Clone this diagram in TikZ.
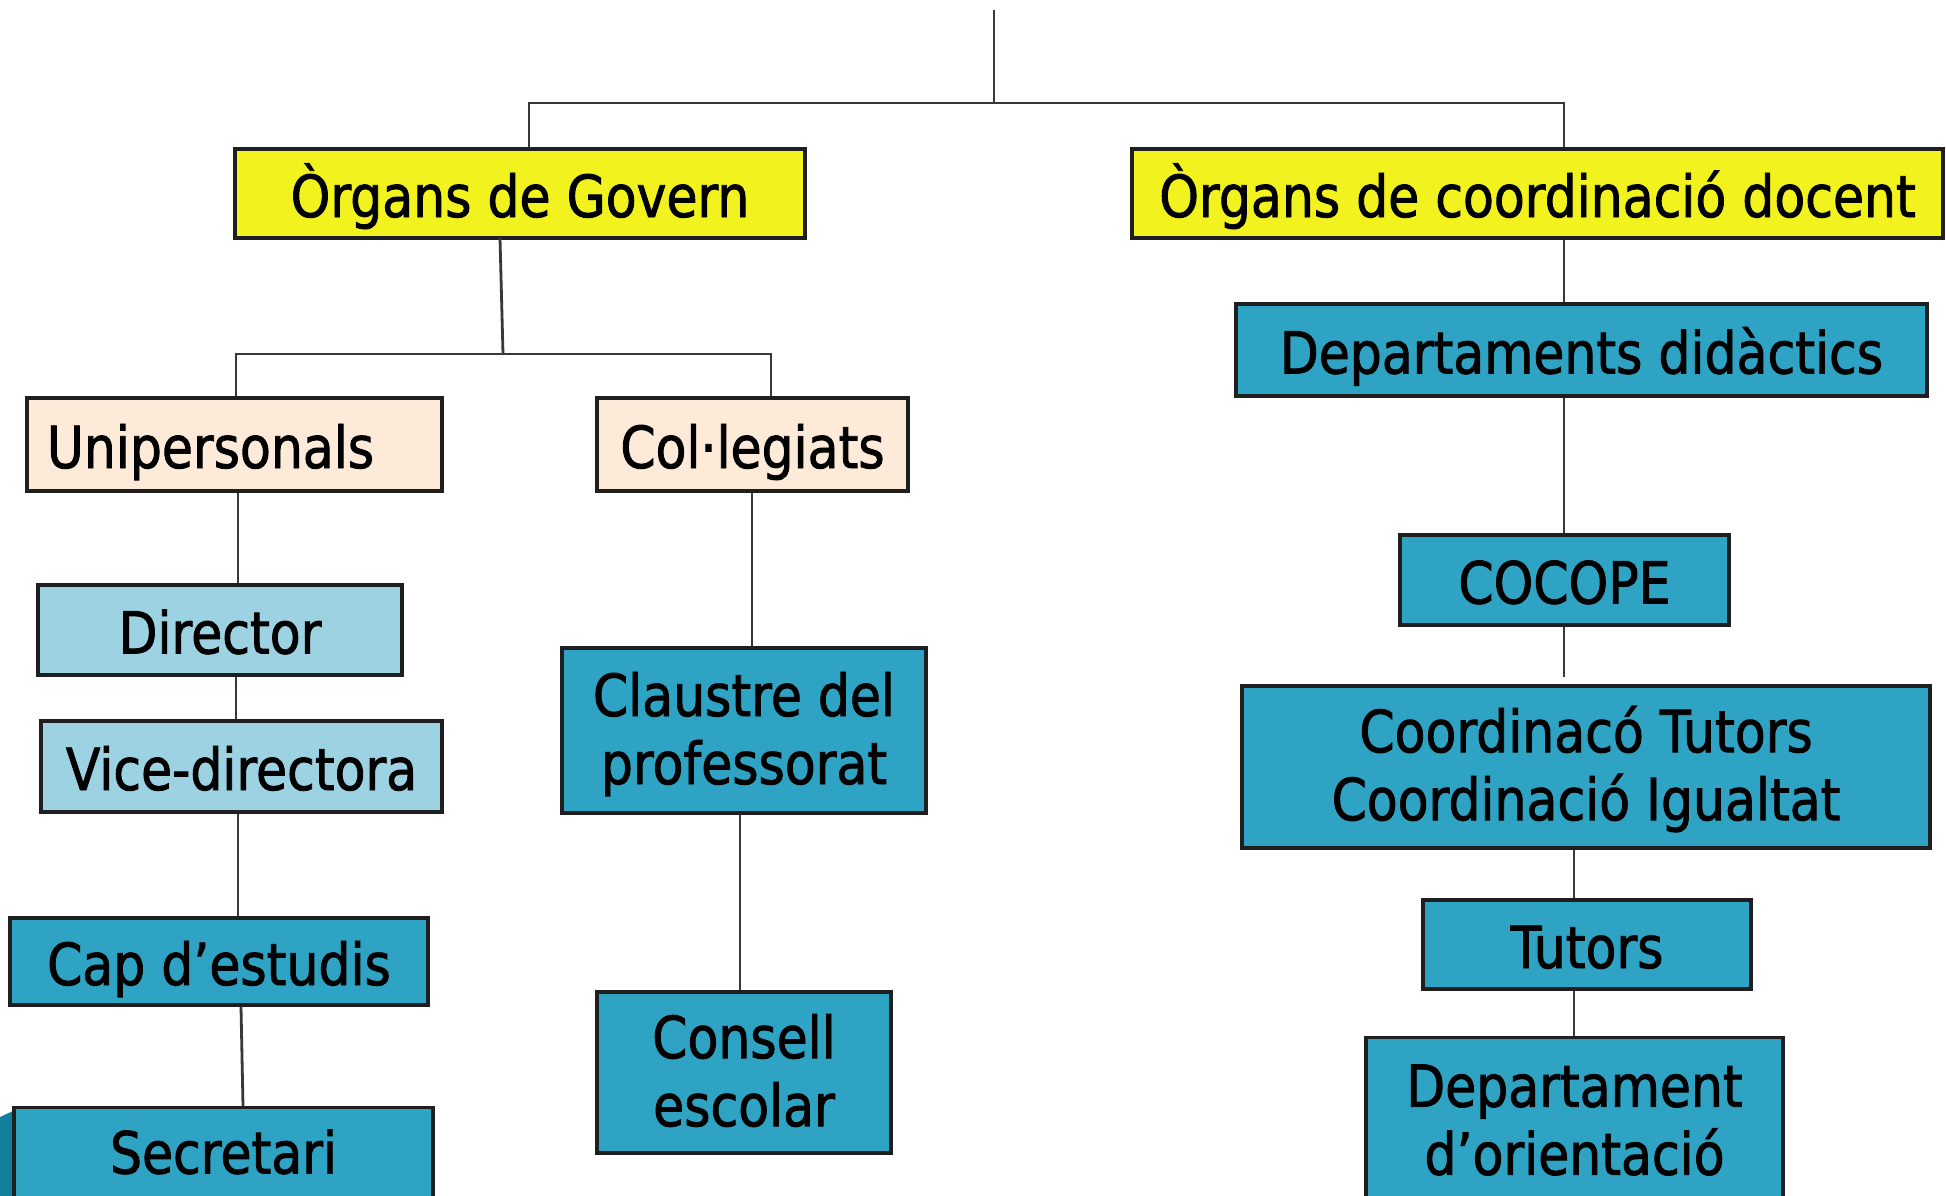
\documentclass[tikz,border=0pt]{standalone}
\usepackage{fontspec}
\setmainfont{DejaVu Sans}[FakeStretch=0.87,FakeBold=1.5]
\usetikzlibrary{calc}
\definecolor{cyell}{HTML}{F2F21E}
\definecolor{cpeach}{HTML}{FDEAD8}
\definecolor{clight}{HTML}{9CD2E2}
\definecolor{cteal}{HTML}{2EA3C3}
\definecolor{cdark}{HTML}{15809E}
\definecolor{cline}{HTML}{383838}
\begin{document}
\begin{tikzpicture}[x=1pt,y=-1pt,
  font=\fontsize{58}{68}\selectfont,
  box/.style={draw=black!88, line width=3.1pt, inner sep=0pt, align=center, text=black},
  sl/.style={text height=57pt, text depth=10pt},
  ybox/.style={box, sl, fill=cyell},
  pbox/.style={box, sl, fill=cpeach},
  lbox/.style={box, sl, fill=clight},
  tbox/.style={box, sl, fill=cteal},
  mbox/.style={box, fill=cteal},
  txt/.style={inner sep=0pt, align=center, text=black},
  conn/.style={draw=cline, line width=2.8pt}]
\useasboundingbox (0,0) rectangle (1946,1196);
\clip (0,0) rectangle (1946,1196);
\fill[white] (0,0) rectangle (1946,1196);
\fill[cdark] (0,1117) -- (13,1111) -- (13,1196) -- (0,1196) -- cycle;

% top level
\node[ybox, minimum width=570, minimum height=89] (gov) at (520,193.5) {Òrgans de Govern};
\node[ybox, minimum width=811, minimum height=89] (coord) at (1537.5,193.5) {Òrgans de coordinació docent};

% left branch
\node[pbox, minimum width=415, minimum height=93] (unip) at (234.5,444.5) {\kern-48pt Unipersonals};
\node[pbox, minimum width=311, minimum height=93] (coll) at (752.5,444.5) {Col·legiats};
\node[lbox, minimum width=364, minimum height=90] (dir) at (220,630) {Director};
\node[lbox, minimum width=401, minimum height=91] (vice) at (241.5,766.5) {Vice-directora};
\node[tbox, minimum width=418, minimum height=87] (cap) at (219,961.5) {Cap d’estudis};
\node[mbox, minimum width=419, minimum height=130, anchor=north] (sec) at (223.5,1106) {};
\node[txt, sl] (sect) at (223.5,1150) {Secretari};
\node[mbox, minimum width=364, minimum height=165] (claus) at (744,730.5) {};
\node[txt] (claust) at (744,734) {Claustre del\\professorat};
\node[mbox, minimum width=294, minimum height=161] (cons) at (744,1072.5) {};
\node[txt] (const) at (744,1070.5) {Consell\\escolar};

% right branch
\node[tbox, minimum width=691, minimum height=92] (deps) at (1581.5,350) {Departaments didàctics};
\node[tbox, minimum width=329, minimum height=90] (cocope) at (1564.5,580) {COCOPE};
\node[mbox, minimum width=688, minimum height=162] (coordt) at (1586,767) {};
\node[txt] (coordtt) at (1586,769) {Coordinacó Tutors\\Coordinació Igualtat};
\node[tbox, minimum width=328, minimum height=89] (tutors) at (1587,944.5) {Tutors};
\node[mbox, minimum width=417, minimum height=200, anchor=north] (dori) at (1574.5,1036) {};
\node[txt] (dorit) at (1574.5,1120) {Departament\\d’orientació};

% connectors
\coordinate (top) at (994,10);
\coordinate (j1) at (994,103);
\coordinate (xg) at (529,0);
\coordinate (xr) at (1564,0);
\coordinate (xr2) at (1574,0);
\draw[conn] (top) -- (j1);
\draw[conn] (j1) -| (gov.north -| xg);
\draw[conn] (j1) -| (coord.north -| xr);

\coordinate (g1) at (500,238);
\coordinate (g2) at (503,354);
\draw[conn] (g1) -- (g2);
\draw[conn] (g2) -| (unip.north -| 236,0);
\draw[conn] (g2) -| (coll.north -| 771,0);
\draw[conn] (unip.south -| 238,0) -- (dir.north -| 238,0);
\draw[conn] (dir.south -| 236,0) -- (vice.north -| 236,0);
\draw[conn] (vice.south -| 238,0) -- (cap.north -| 238,0);
\draw[conn] (cap.south -| 241,0) -- (sec.north -| 243,0);
\draw[conn] (coll.south -| 752,0) -- (claus.north -| 752,0);
\draw[conn] (claus.south -| 740,0) -- (cons.north -| 740,0);

\draw[conn] (coord.south -| xr) -- (deps.north -| xr);
\draw[conn] (deps.south -| xr) -- (cocope.north -| xr);
\draw[conn] (cocope.south -| xr) -- ($(coordt.north -| xr)+(0,-7)$);
\draw[conn] (coordt.south -| xr2) -- (tutors.north -| xr2);
\draw[conn] (tutors.south -| xr2) -- (dori.north -| xr2);
\end{tikzpicture}
\end{document}
